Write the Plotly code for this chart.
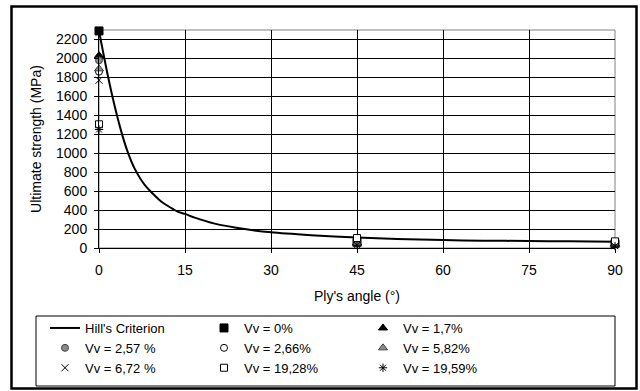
import plotly.graph_objects as go

# Hill's criterion curve
hill_angle = [0, 1.5, 2.7, 3.9, 5, 6.2, 8, 10.9, 13.8, 15, 16.7, 20, 25.7, 30, 37, 45, 52, 60, 67, 75, 82, 90]
hill_strength = [2290, 1830, 1505, 1225, 1014, 840, 663, 488, 382, 360, 320, 260, 197, 165, 135, 110, 95, 84, 77, 74, 70, 66]

angles = [0, 45, 90]
vv_names = ["Vv = 0%", "Vv = 1,7%", "Vv = 2,57 %", "Vv = 2,66%", "Vv = 5,82%",
            "Vv = 6,72 %", "Vv = 19,28%", "Vv = 19,59%"]
vv_0 = [2290, 60, 45]
vv_1_7 = [2030, 55, 40]
vv_2_57 = [1980, 70, 50]
vv_2_66 = [1860, 80, 55]
vv_5_82 = [1890, 45, 35]
vv_6_72 = [1770, 90, 60]
vv_19_28 = [1305, 105, 70]
vv_19_59 = [1250, 30, 20]
vv_values = [vv_0, vv_1_7, vv_2_57, vv_2_66, vv_5_82, vv_6_72, vv_19_28, vv_19_59]

x_ticks = [0, 15, 30, 45, 60, 75, 90]
y_ticks = list(range(0, 2201, 200))

styles = [
    dict(symbol="square", size=8, color="black", line=dict(color="black", width=1)),
    dict(symbol="triangle-up", size=8, color="black", line=dict(color="black", width=1)),
    dict(symbol="circle", size=7, color="#8c8c8c", line=dict(color="#444444", width=1)),
    dict(symbol="circle", size=7, color="white", line=dict(color="black", width=1)),
    dict(symbol="triangle-up", size=8, color="#8c8c8c", line=dict(color="#444444", width=1)),
    dict(symbol="x-thin-open", size=7, color="black", line=dict(color="black", width=1)),
    dict(symbol="square", size=7, color="white", line=dict(color="black", width=1)),
    dict(symbol="asterisk-open", size=7, color="black", line=dict(color="black", width=1)),
]

FONT = "Liberation Sans, Arial, sans-serif"

fig = go.Figure()
fig.add_trace(go.Scatter(x=hill_angle, y=hill_strength, mode="lines", name="Hill's Criterion",
                         line=dict(color="black", width=2, shape="spline", smoothing=0.6),
                         cliponaxis=False))
for name, vals, st in zip(vv_names, vv_values, styles):
    fig.add_trace(go.Scatter(x=angles, y=vals, mode="markers", name=name, marker=st, cliponaxis=False))

W, H = 640, 391
ml, mr, mt, mb = 99, 25, 30, 143
pw, ph = W - ml - mr, H - mt - mb

def px(x):
    return (x - ml) / pw

def py(y):
    return (H - mb - y) / ph

fig.update_layout(
    width=W, height=H,
    margin=dict(l=ml, r=mr, t=mt, b=mb, autoexpand=False),
    paper_bgcolor="white", plot_bgcolor="white",
    font=dict(family=FONT, size=14, color="black"),
    showlegend=True,
    legend=dict(orientation="h", x=px(45), xanchor="left", y=py(313), yanchor="top",
                entrywidth=114, entrywidthmode="pixels", traceorder="normal",
                font=dict(family=FONT, size=13, color="black"),
                bgcolor="rgba(0,0,0,0)", borderwidth=0, itemwidth=30, tracegroupgap=0),
    xaxis=dict(range=[0, 90], tickvals=x_ticks, ticks="outside", ticklen=4, tickcolor="black",
               showline=True, linecolor="black", linewidth=1, showgrid=True, gridcolor="black",
               gridwidth=1, zeroline=False, tickfont=dict(size=14), ticklabelstandoff=5,
               title=dict(text="Ply's angle (°)", font=dict(size=14), standoff=14)),
    yaxis=dict(range=[0, 2300], tickvals=y_ticks, ticks="outside", ticklen=4, tickcolor="black",
               showline=True, linecolor="black", linewidth=1, showgrid=True, gridcolor="black",
               gridwidth=1, zeroline=False, tickfont=dict(size=14), ticklabelstandoff=4,
               title=dict(text="Ultimate strength (MPa)", font=dict(size=14), standoff=11)),
    shapes=[
        dict(type="rect", xref="paper", yref="paper", x0=0, x1=1, y0=0, y1=1,
             line=dict(color="#808080", width=1), layer="below"),
        dict(type="rect", xref="paper", yref="paper", x0=px(36), x1=px(615), y0=py(386), y1=py(316),
             line=dict(color="black", width=1)),
        dict(type="rect", xref="paper", yref="paper", x0=px(11.5), x1=px(636.5), y0=py(388.5), y1=py(6.5),
             line=dict(color="black", width=2.5)),
    ],
)

fig.write_html("out.html")
